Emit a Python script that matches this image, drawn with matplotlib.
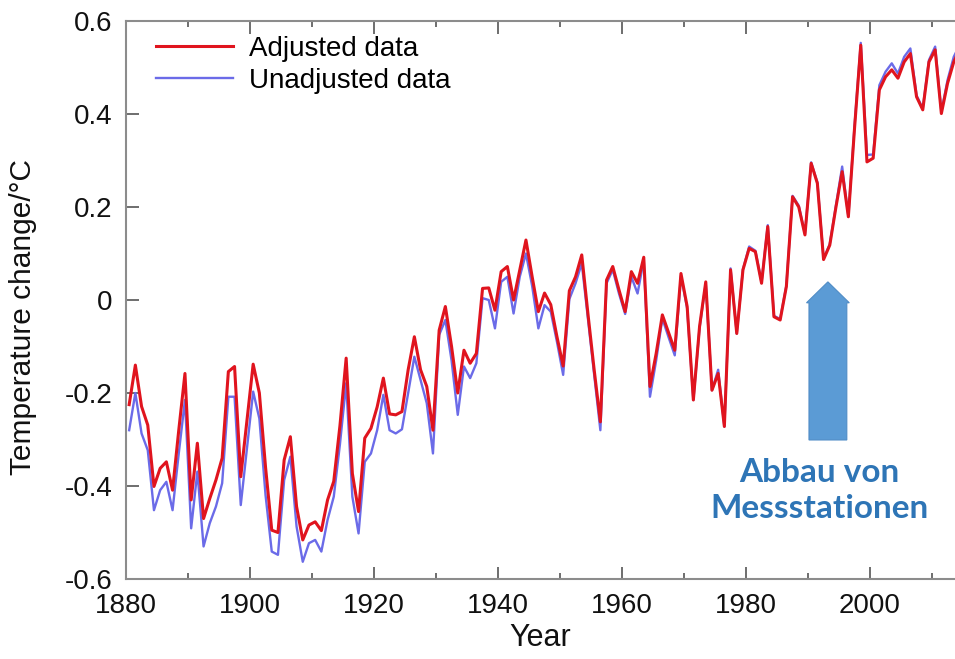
import numpy as np
import matplotlib
matplotlib.use("Agg")
import matplotlib.pyplot as plt
from matplotlib.patches import FancyArrow
from matplotlib.ticker import MultipleLocator

years = list(range(1880, 2015))

adjusted = [
    -0.225, -0.140, -0.229, -0.269, -0.401, -0.362, -0.348, -0.409, -0.280, -0.158,
    -0.430, -0.308, -0.470, -0.427, -0.387, -0.340, -0.154, -0.143, -0.380, -0.260,
    -0.138, -0.200, -0.360, -0.495, -0.500, -0.344, -0.294, -0.444, -0.516, -0.484,
    -0.477, -0.496, -0.430, -0.390, -0.270, -0.125, -0.373, -0.455, -0.297, -0.276,
    -0.230, -0.168, -0.245, -0.247, -0.240, -0.150, -0.079, -0.150, -0.186, -0.280,
    -0.065, -0.014, -0.100, -0.200, -0.108, -0.136, -0.115, 0.025, 0.026, -0.022,
    0.061, 0.072, 0.000, 0.065, 0.129, 0.050, -0.025, 0.015, -0.010, -0.079,
    -0.142, 0.020, 0.050, 0.097, -0.030, -0.150, -0.262, 0.043, 0.072, 0.022,
    -0.025, 0.061, 0.036, 0.092, -0.186, -0.115, -0.032, -0.070, -0.108, 0.057,
    -0.014, -0.215, -0.057, 0.039, -0.194, -0.158, -0.272, 0.065, -0.072, 0.065,
    0.111, 0.104, 0.036, 0.158, -0.036, -0.043, 0.029, 0.222, 0.200, 0.140,
    0.294, 0.251, 0.087, 0.118, 0.200, 0.276, 0.179, 0.370, 0.548, 0.297,
    0.305, 0.452, 0.480, 0.495, 0.477, 0.512, 0.530, 0.437, 0.409, 0.512,
    0.538, 0.401, 0.466, 0.512, 0.540,
]

unadjusted = [
    -0.280, -0.200, -0.287, -0.323, -0.452, -0.409, -0.391, -0.452, -0.330, -0.215,
    -0.491, -0.369, -0.530, -0.480, -0.444, -0.394, -0.208, -0.208, -0.441, -0.320,
    -0.197, -0.255, -0.420, -0.541, -0.548, -0.387, -0.337, -0.487, -0.563, -0.523,
    -0.516, -0.541, -0.473, -0.423, -0.310, -0.179, -0.423, -0.502, -0.348, -0.330,
    -0.280, -0.204, -0.280, -0.287, -0.278, -0.200, -0.122, -0.172, -0.222, -0.330,
    -0.075, -0.043, -0.130, -0.247, -0.143, -0.168, -0.136, 0.004, 0.000, -0.061,
    0.039, 0.050, -0.029, 0.050, 0.100, 0.030, -0.061, -0.011, -0.025, -0.090,
    -0.161, 0.002, 0.036, 0.079, -0.040, -0.160, -0.280, 0.036, 0.065, 0.014,
    -0.030, 0.050, 0.014, 0.086, -0.208, -0.130, -0.040, -0.080, -0.119, 0.052,
    -0.018, -0.215, -0.060, 0.036, -0.194, -0.150, -0.272, 0.068, -0.072, 0.066,
    0.115, 0.106, 0.038, 0.161, -0.034, -0.041, 0.031, 0.224, 0.203, 0.142,
    0.296, 0.253, 0.089, 0.120, 0.203, 0.287, 0.180, 0.375, 0.553, 0.312,
    0.313, 0.462, 0.491, 0.509, 0.487, 0.523, 0.541, 0.440, 0.412, 0.516,
    0.545, 0.405, 0.473, 0.523, 0.550,
]

xticks = [1880, 1900, 1920, 1940, 1960, 1980, 2000]
yticks = [-0.6, -0.4, -0.2, 0, 0.2, 0.4, 0.6]
ytick_labels = ["-0.6", "-0.4", "-0.2", "0", "0.2", "0.4", "0.6"]

plt.rcParams['font.family'] = ['Liberation Sans', 'DejaVu Sans']

fig = plt.figure(figsize=(9.55, 6.59), dpi=100)
ax = fig.add_axes([0.132, 0.1214, 0.868, 0.8467])

# annual means drawn at mid-year
x = np.array(years) + 0.5
ax.plot(x, unadjusted, color='#6b6be8', lw=1.7, label='Unadjusted data', zorder=2)
ax.plot(x, adjusted, color='#e0141e', lw=2.2, label='Adjusted data', zorder=3)

ax.set_xlim(1880, 2013.7)
ax.set_ylim(-0.6, 0.6)
ax.set_xticks(xticks)
ax.xaxis.set_minor_locator(MultipleLocator(10))
ax.set_yticks(yticks)
ax.set_yticklabels(ytick_labels)

spine_c = '#8c8c8c'
for s in ['left', 'bottom', 'top']:
    ax.spines[s].set_color(spine_c)
    ax.spines[s].set_linewidth(1.5)
ax.spines['right'].set_visible(False)
ax.tick_params(which='major', direction='in', length=9, width=1.2, color='#555555',
               labelsize=20, pad=10, top=True, labelcolor='#111111')
ax.tick_params(which='minor', direction='in', length=4.5, width=1.2, color='#555555', top=True)

ax.set_xlabel('Year', fontsize=22, labelpad=3, color='#111111')
ax.set_ylabel('Temperature change/°C', fontsize=21.5, color='#111111')
ax.yaxis.set_label_coords(-0.108, 0.47)

handles, labels = ax.get_legend_handles_labels()
leg = ax.legend(handles[::-1], labels[::-1], loc='upper left', frameon=False,
                fontsize=20, handlelength=2.75, handletextpad=0.6, labelspacing=0.2,
                borderaxespad=0.0, bbox_to_anchor=(0.023, 0.993))

arrow = FancyArrow(1993.2, -0.301, 0, 0.340, width=6.1, head_width=6.9,
                   head_length=0.045, length_includes_head=True,
                   color='#5b9bd5', ec='#4f8cc6', lw=0.8, zorder=4)
ax.add_patch(arrow)
ax.text(1991.8, -0.409, 'Abbau von\nMessstationen', ha='center', va='center',
        fontsize=24, fontweight='bold', color='#2e75b6', family=['Lato', 'DejaVu Sans'],
        linespacing=1.3, zorder=5)

fig.savefig('out.png', dpi=100)
